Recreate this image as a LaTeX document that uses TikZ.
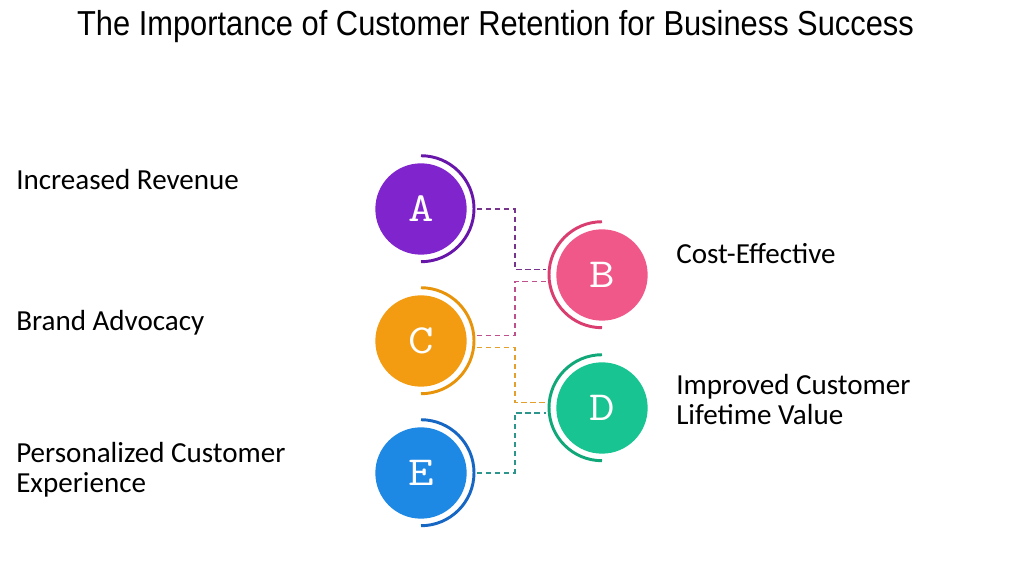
\documentclass[tikz,border=0pt]{standalone}
\usepackage{fontspec}
\usepackage{graphicx}
\setmainfont{Carlito}
\newfontfamily\titlefont[FakeStretch=0.89]{Liberation Sans}
\newcommand\discletter[1]{\scalebox{1.2}[1]{#1}}
\begin{document}
\begin{tikzpicture}[x=0.75pt,y=0.75pt,
  disc/.style={circle,inner sep=0pt,minimum size=68.5pt,fill=#1,text=white,
    font=\ttfamily\fontsize{31}{31}\selectfont},
  ring/.style={circle,inner sep=0pt,minimum size=79.5pt},
  arcline/.style={line width=2.2pt,draw=#1},
  conn/.style={line width=1.3pt,draw=#1,dash pattern=on 4pt off 2.8pt},
  lbl/.style={anchor=base west,inner sep=0pt,align=left,
    font=\fontsize{21.8}{22.5}\selectfont}]
\definecolor{cA}{RGB}{128,36,206}\definecolor{aA}{RGB}{104,22,170}
\definecolor{cB}{RGB}{240,88,138}\definecolor{aB}{RGB}{218,62,112}
\definecolor{cC}{RGB}{243,156,18}\definecolor{aC}{RGB}{232,148,10}
\definecolor{cD}{RGB}{24,196,145}\definecolor{aD}{RGB}{16,168,120}
\definecolor{cE}{RGB}{30,136,229}\definecolor{aE}{RGB}{22,102,196}
\definecolor{lAB}{RGB}{118,52,140}\definecolor{lCB}{RGB}{190,80,140}
\definecolor{lCD}{RGB}{228,160,44}\definecolor{lED}{RGB}{44,150,140}
\useasboundingbox (0,0) rectangle (1024,577);
\fill[white] (0,0) rectangle (1024,577);
\node[anchor=base,inner sep=0pt,font=\titlefont\fontsize{26}{26}\selectfont] (title) at (495.5,541) {The Importance of Customer Retention for Business Success};
% discs
\node[disc=cA] (A) at (421,368) {\discletter{A}};
\node[disc=cB] (B) at (602,302) {\discletter{B}};
\node[disc=cC] (C) at (421,236) {\discletter{C}};
\node[disc=cD] (D) at (602,169) {\discletter{D}};
\node[disc=cE] (E) at (421,104) {\discletter{E}};
% rings
\node[ring] (Ar) at (A.center) {};
\node[ring] (Br) at (B.center) {};
\node[ring] (Cr) at (C.center) {};
\node[ring] (Dr) at (D.center) {};
\node[ring] (Er) at (E.center) {};
\draw[arcline=aA] (Ar.90) arc[start angle=90,end angle=-90,radius=53];
\draw[arcline=aB] (Br.90) arc[start angle=90,end angle=270,radius=53];
\draw[arcline=aC] (Cr.90) arc[start angle=90,end angle=-90,radius=53];
\draw[arcline=aD] (Dr.90) arc[start angle=90,end angle=270,radius=53];
\draw[arcline=aE] (Er.90) arc[start angle=90,end angle=-90,radius=53];
% connectors
\coordinate (jx) at (512,0);
\draw[conn=lAB] ([xshift=2pt]Ar.east) -- ([xshift=2pt]Ar.east -| jx) |- ([xshift=-2pt]Br.174);
\draw[conn=lCB] ([xshift=2pt]Cr.6) -- ([xshift=2pt]Cr.6 -| jx) |- ([xshift=-2pt]Br.187);
\draw[conn=lCD] ([xshift=2pt]Cr.-7) -- ([xshift=2pt]Cr.-7 -| jx) |- ([xshift=-2pt]Dr.174);
\draw[conn=lED] ([xshift=2pt]Er.east) -- ([xshift=2pt]Er.east -| jx) |- ([xshift=-2pt]Dr.185);
% labels
\node[lbl] (lA) at (16,387) {Increased Revenue};
\node[lbl] (lC) at (16,246) {Brand Advocacy};
\node[lbl] (lE) at (16,84) {Personalized Customer\\Experience};
\node[lbl] (lB) at (676,313) {Cost-Effective};
\node[lbl] (lD) at (676,152) {Improved Customer\\Lifetime Value};
\end{tikzpicture}
\end{document}
